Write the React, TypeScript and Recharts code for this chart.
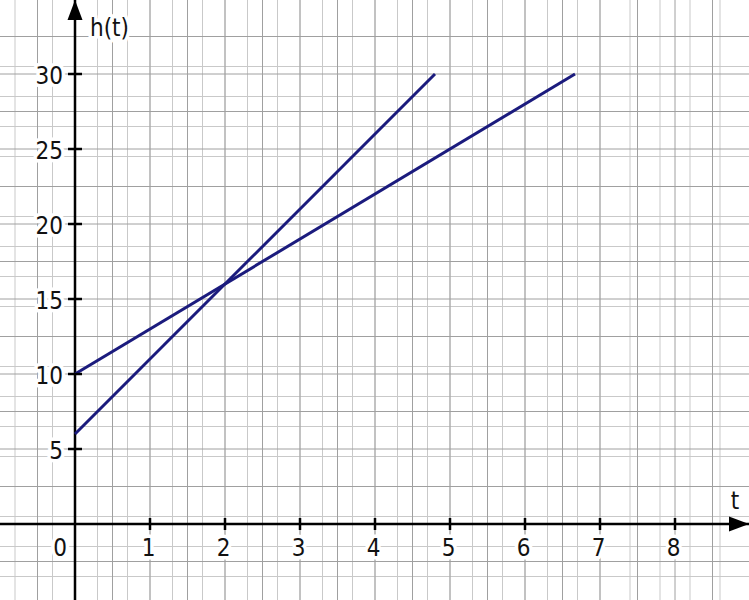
import React from 'react';
import { ComposedChart, Line, XAxis, YAxis, CartesianGrid, ReferenceLine, ReferenceDot } from 'recharts';

// visible window of the graph paper (origin sits at 75px / 524px)
const T_MIN = -1;
const T_MAX = 674 / 75;
const H_MIN = -76 / 15;
const H_MAX = 524 / 15;

// h(t) = 10 + 3t
const slowT = [0, 6.667];
const slowH = [10, 30];
// h(t) = 6 + 5t
const fastT = [0, 4.8];
const fastH = [6, 30];

const xTickValues = [1, 2, 3, 4, 5, 6, 7, 8];
const xTickLabels = ['1', '2', '3', '4', '5', '6', '7', '8'];
const yTickValues = [5, 10, 15, 20, 25, 30];
const yTickLabels = ['5', '10', '15', '20', '25', '30'];

const slowData = slowT.map((t, i) => ({ t, h: slowH[i] }));
const fastData = fastT.map((t, i) => ({ t, h: fastH[i] }));

function steps(from: number, to: number, step: number) {
  const out: number[] = [];
  const n = Math.round((to - from) / step);
  for (let i = 0; i <= n; i++) out.push(+(from + i * step).toFixed(4));
  return out;
}

const minorX = steps(-1, 9, 0.1);
const majorX = steps(-1, 9, 0.5);
const minorY = steps(-5, 35, 0.5);
const majorY = steps(-5, 35, 2.5);

const FONT = '"DejaVu Sans Condensed", "DejaVu Sans", Verdana, sans-serif';
const INK = '#000';
const LINE = '#1b1b7d';

const labelStyle = {
  fontFamily: FONT,
  fontStretch: 'condensed',
  fontSize: 24,
  fill: '#111',
  stroke: '#fff',
  strokeWidth: 7,
  paintOrder: 'stroke',
  strokeLinejoin: 'round',
} as React.CSSProperties;

export default function App() {
  return (
    <div style={{ position: 'fixed', top: 0, left: 0, background: '#fff' }}>
      <ComposedChart width={749} height={600} margin={{ top: 0, right: 0, bottom: 0, left: 0 }}>
        <XAxis type="number" dataKey="t" domain={[T_MIN, T_MAX]} allowDataOverflow hide />
        <YAxis type="number" domain={[H_MIN, H_MAX]} allowDataOverflow hide />
        <CartesianGrid verticalValues={minorX} horizontalValues={minorY} stroke="#c9c9c9" strokeWidth={1} />
        <CartesianGrid verticalValues={majorX} horizontalValues={majorY} stroke="#a0a0a0" strokeWidth={1} />

        <ReferenceLine x={0} stroke={INK} strokeWidth={2.5} />
        <ReferenceLine y={0} stroke={INK} strokeWidth={2.5} />

        <Line data={slowData} dataKey="h" type="linear" stroke={LINE} strokeWidth={3} dot={false} activeDot={false} legendType="none" isAnimationActive={false} />
        <Line data={fastData} dataKey="h" type="linear" stroke={LINE} strokeWidth={3} dot={false} activeDot={false} legendType="none" isAnimationActive={false} />

        {xTickValues.map((v, i) => (
          <ReferenceDot
            key={`xt-${v}`}
            x={v}
            y={0}
            shape={(p: any) => (
              <g>
                <line x1={p.cx} x2={p.cx} y1={p.cy - 6} y2={p.cy + 6} stroke={INK} strokeWidth={2.5} />
                <text x={p.cx - 1.5} y={p.cy + 32} textAnchor="middle" style={labelStyle}>{xTickLabels[i]}</text>
              </g>
            )}
          />
        ))}
        {yTickValues.map((v, i) => (
          <ReferenceDot
            key={`yt-${v}`}
            x={0}
            y={v}
            shape={(p: any) => (
              <g>
                <line x1={p.cx - 7} x2={p.cx + 7} y1={p.cy} y2={p.cy} stroke={INK} strokeWidth={2.5} />
                <text x={p.cx - 12} y={p.cy + 10} textAnchor="end" style={labelStyle}>{yTickLabels[i]}</text>
              </g>
            )}
          />
        ))}
        <ReferenceDot
          x={0}
          y={0}
          shape={(p: any) => (
            <text x={p.cx - 15} y={p.cy + 32} textAnchor="middle" style={labelStyle}>0</text>
          )}
        />
        {/* arrow heads + axis names */}
        <ReferenceDot
          x={0}
          y={H_MAX}
          ifOverflow="visible"
          shape={(p: any) => (
            <g>
              <polygon points={`${p.cx},${p.cy} ${p.cx - 7.5},${p.cy + 20} ${p.cx + 7.5},${p.cy + 20}`} fill={INK} />
              <text x={p.cx + 15} y={p.cy + 36} style={labelStyle}>h(t)</text>
            </g>
          )}
        />
        <ReferenceDot
          x={T_MAX}
          y={0}
          ifOverflow="visible"
          shape={(p: any) => (
            <g>
              <polygon points={`${p.cx},${p.cy} ${p.cx - 20},${p.cy - 7.5} ${p.cx - 20},${p.cy + 7.5}`} fill={INK} />
              <text x={p.cx - 14} y={p.cy - 15} textAnchor="middle" style={labelStyle}>t</text>
            </g>
          )}
        />
      </ComposedChart>
    </div>
  );
}
